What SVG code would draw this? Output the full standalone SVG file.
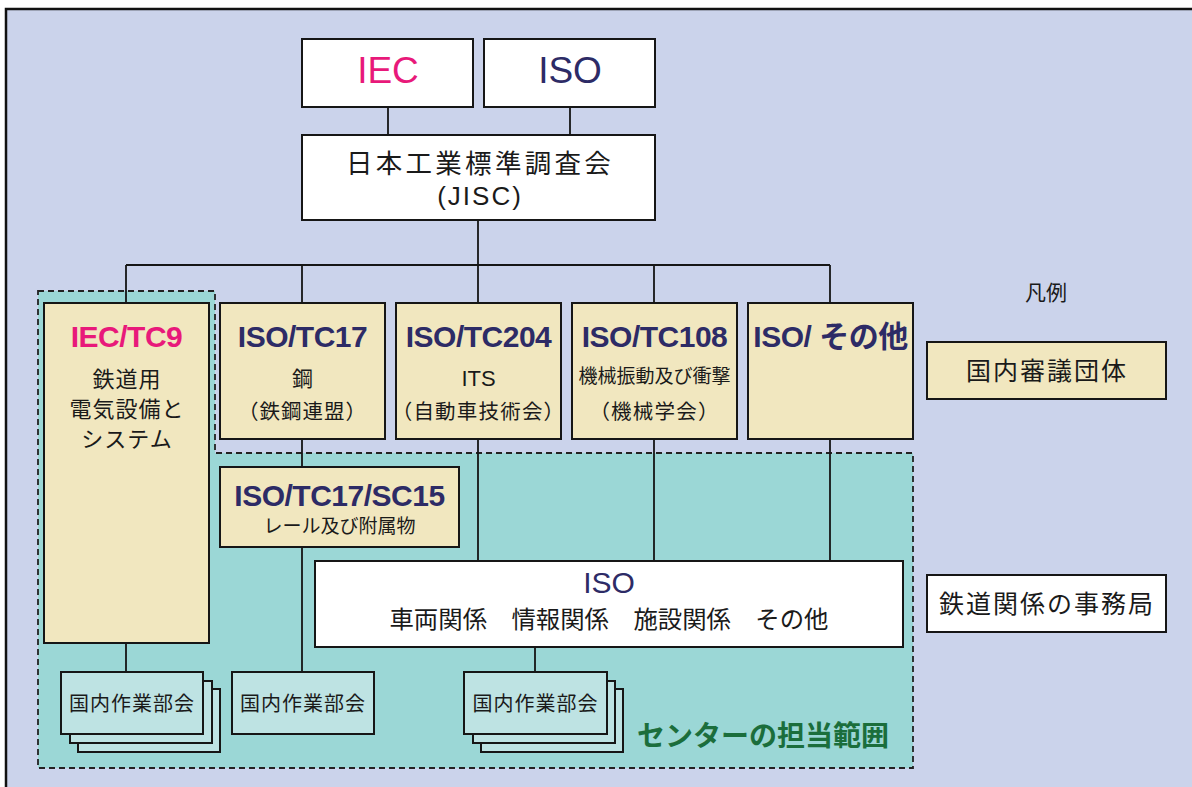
<svg xmlns="http://www.w3.org/2000/svg" width="1192" height="787" viewBox="0 0 1192 787">
<style>
.box{stroke:#161616;stroke-width:2}
.w{fill:#ffffff}
.b{fill:#F1E7BF}
.t{fill:#BEE3E3}
.ln{stroke:#161616;stroke-width:1.8;fill:none}
.jp{font-family:"Noto Sans CJK JP","Liberation Sans",sans-serif;fill:#1a1a1a;text-anchor:middle}
.lat{font-family:"Liberation Sans","Noto Sans CJK JP",sans-serif;text-anchor:middle}
.ttl{font-family:"Liberation Sans","Noto Sans CJK JP",sans-serif;text-anchor:middle;font-weight:bold;font-size:30px;fill:#2D2B66;letter-spacing:-0.5px}
.pink{fill:#E8197A}
.navy{fill:#2D2B66}
</style>
<rect x="6" y="9" width="1192" height="790" fill="#CBD3EB" stroke="#111" stroke-width="2.5"/>
<path d="M38,291 H215 V453 H913 V768 H38 Z" fill="#9BD7D6" stroke="#222" stroke-width="1.8" stroke-dasharray="6,4"/>
<g id="connectors">
<path class="ln" d="M388,107 V135 M570,107 V135 M478,220 V265 M126,265 H830 M126,265 V303 M302,265 V303 M478,265 V303 M654,265 V303 M830,265 V303"/>
<path class="ln" d="M302,439 V467 M302,547 V672 M126,643 V672 M478,439 V561 M654,439 V561 M830,439 V561 M535,647 V672"/>
</g>
<g id="iec">
<rect class="box w" x="302" y="39" width="171" height="68"/>
<text class="lat pink" x="388" y="83" font-size="37">IEC</text>
</g>
<g id="iso">
<rect class="box w" x="484" y="39" width="171" height="68"/>
<text class="lat navy" x="570" y="83" font-size="37">ISO</text>
</g>
<g id="jisc">
<rect class="box w" x="302" y="135" width="353" height="85"/>
<text class="jp" x="480" y="173" font-size="26.5" letter-spacing="3.3">日本工業標準調査会</text>
<text class="lat" x="480" y="205" font-size="26" letter-spacing="2" fill="#1a1a1a">(JISC)</text>
</g>
<g id="iec-tc9">
<rect class="box b" x="44" y="303" width="165" height="340"/>
<text class="ttl pink" x="126.5" y="347">IEC/TC9</text>
<text class="jp" x="127" y="387" font-size="22" letter-spacing="1">鉄道用</text>
<text class="jp" x="127" y="417" font-size="22" letter-spacing="1">電気設備と</text>
<text class="jp" x="127" y="447" font-size="22" letter-spacing="1">システム</text>
</g>
<g id="iso-tc17">
<rect class="box b" x="220" y="303" width="165" height="136"/>
<text class="ttl" x="302.5" y="347">ISO/TC17</text>
<text class="jp" x="302.5" y="386" font-size="21">鋼</text>
<text class="jp" x="302.5" y="419" font-size="20.5" letter-spacing="1">（鉄鋼連盟）</text>
</g>
<g id="iso-tc204">
<rect class="box b" x="396" y="303" width="165" height="136"/>
<text class="ttl" x="478.5" y="347">ISO/TC204</text>
<text class="lat" x="478.5" y="386" font-size="22" fill="#1a1a1a">ITS</text>
<text class="jp" x="478.5" y="419" font-size="20.5" letter-spacing="1.2">（自動車技術会）</text>
</g>
<g id="iso-tc108">
<rect class="box b" x="572" y="303" width="165" height="136"/>
<text class="ttl" x="654.5" y="347">ISO/TC108</text>
<text class="jp" x="654.5" y="383" font-size="19">機械振動及び衝撃</text>
<text class="jp" x="654.5" y="419" font-size="20.5" letter-spacing="1.2">（機械学会）</text>
</g>
<g id="iso-other">
<rect class="box b" x="748" y="303" width="165" height="136"/>
<text class="ttl" x="830.5" y="347">ISO/ その他</text>
</g>
<g id="iso-tc17-sc15">
<rect class="box b" x="220" y="467" width="239" height="80"/>
<text class="ttl" x="339.5" y="506">ISO/TC17/SC15</text>
<text class="jp" x="339.5" y="533" font-size="19">レール及び附属物</text>
</g>
<g id="iso-rail">
<rect class="box w" x="315" y="561" width="588" height="86"/>
<text class="lat navy" x="609" y="593" font-size="30">ISO</text>
<text class="jp" x="609" y="628" font-size="24.4">車両関係　情報関係　施設関係　その他</text>
</g>
<g id="wg1">
<rect class="box t" x="78" y="689" width="142" height="63"/>
<rect class="box t" x="70" y="681" width="142" height="62"/>
<rect class="box t" x="61" y="672" width="142" height="62"/>
<text class="jp" x="132" y="711" font-size="20" letter-spacing="1">国内作業部会</text>
</g>
<g id="wg2">
<rect class="box t" x="232" y="672" width="142" height="62"/>
<text class="jp" x="303" y="711" font-size="20" letter-spacing="1">国内作業部会</text>
</g>
<g id="wg3">
<rect class="box t" x="481" y="689" width="142" height="63"/>
<rect class="box t" x="473" y="681" width="142" height="62"/>
<rect class="box t" x="464" y="672" width="143" height="62"/>
<text class="jp" x="535.5" y="711" font-size="20" letter-spacing="1">国内作業部会</text>
</g>
<g id="center-label">
<text x="763" y="746" font-family="Noto Sans CJK JP, sans-serif" font-weight="bold" font-size="28" fill="#1B6E3C" text-anchor="middle">センターの担当範囲</text>
</g>
<g id="legend">
<text class="jp" x="1046" y="300" font-size="21">凡例</text>
<rect class="box b" x="927" y="342" width="239" height="57"/>
<text class="jp" x="1047" y="380" font-size="25" letter-spacing="2">国内審議団体</text>
<rect class="box w" x="927" y="575" width="239" height="57"/>
<text class="jp" x="1047" y="613" font-size="25" letter-spacing="2">鉄道関係の事務局</text>
</g>
</svg>
